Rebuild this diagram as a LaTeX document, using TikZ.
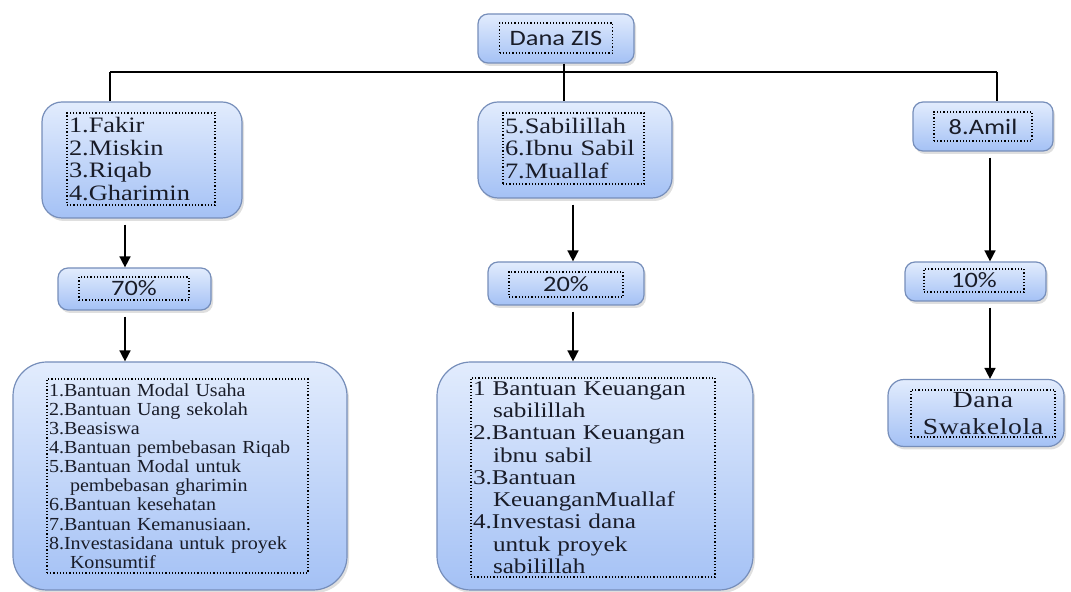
\documentclass[tikz,border=0pt]{standalone}
\usepackage{fontspec}
\setmainfont{Liberation Serif}[FakeStretch=1.2]
\setsansfont{Carlito}[FakeStretch=1.2]
\newfontfamily\plainserif{Liberation Serif}[FakeStretch=1.09]
\usetikzlibrary{positioning,arrows.meta,shadows}
\definecolor{zsTop}{RGB}{226,236,253}
\definecolor{zsBottom}{RGB}{164,193,245}
\definecolor{zsEdge}{RGB}{118,142,186}
\definecolor{zsInk}{RGB}{25,28,40}
\tikzset{
    base/.style={font=\rmfamily, text=zsInk},
    panel/.style={rectangle, rounded corners=#1, draw=zsEdge, line width=0.6pt,
                  top color=zsTop, bottom color=zsBottom,
                  drop shadow={opacity=0.25, shadow xshift=1pt, shadow yshift=-1.5pt}},
    panel/.default=5pt,
    inbox/.style={base, rectangle, draw=black, densely dotted, line width=0.6pt, inner sep=1pt},
    tag/.style={inbox, font=\sffamily\fontsize{11}{12}\selectfont, align=center},
    list/.style={inbox, align=left, text width=#1},
    flow/.style={-{Triangle[length=5.5pt,width=5.5pt]}, line width=0.8pt, shorten <=3pt},
    bus/.style={line width=0.8pt}
}

\begin{document}
\begin{tikzpicture}[x=0.5pt, y=-0.5pt]
  \useasboundingbox (0,0) rectangle (1071,592);

  % source
  \node[panel, minimum width=78pt, minimum height=24.5pt] (zis) at (556,38.5) {};
  \node[tag, minimum width=56.5pt, minimum height=15pt] (zisT) at (556,38) {Dana ZIS};

  % asnaf groups
  \node[panel=10pt, minimum width=100pt, minimum height=58pt] (asnafA) at (142,160) {};
  \node[list=72pt, minimum height=46pt, font=\fontsize{11}{11.25}\selectfont] (asnafAT) at (141,159)
    {1.Fakir\\2.Miskin\\3.Riqab\\4.Gharimin};
  \node[panel=10pt, minimum width=97pt, minimum height=48pt] (asnafB) at (575,150) {};
  \node[list=68.5pt, minimum height=35.5pt, font=\fontsize{11}{11.25}\selectfont] (asnafBT) at (573.5,148.5)
    {5.Sabilillah\\6.Ibnu Sabil\\7.Muallaf};
  \node[panel, minimum width=70pt, minimum height=24.5pt] (amil) at (983,126.5) {};
  \node[tag, minimum width=49pt, minimum height=14.5pt] (amilT) at (983,126.5) {8.Amil};

  % shares
  \node[panel, minimum width=76.5pt, minimum height=21pt] (p70) at (134.5,289) {};
  \node[tag, minimum width=55pt, minimum height=11.5pt] (p70T) at (134,288.5) {70\%};
  \node[panel, minimum width=78pt, minimum height=21.5pt] (p20) at (566,283.5) {};
  \node[tag, minimum width=57pt, minimum height=12.5pt] (p20T) at (566,284.5) {20\%};
  \node[panel, minimum width=70.5pt, minimum height=19.5pt] (p10) at (975.5,281.5) {};
  \node[tag, minimum width=50pt, minimum height=11.5pt] (p10T) at (974,280.5) {10\%};

  % programs
  \node[panel=17pt, minimum width=167pt, minimum height=114pt] (progA) at (180,476) {};
  \node[list=128.5pt, minimum height=97pt, font=\plainserif\fontsize{9.2}{9.55}\selectfont] (progAT) at (177.5,476)
    {1.Bantuan Modal Usaha\\2.Bantuan Uang sekolah\\3.Beasiswa\\4.Bantuan pembebasan Riqab\\
     5.Bantuan Modal untuk\\\hspace*{10.5pt}pembebasan gharimin\\6.Bantuan kesehatan\\
     7.Bantuan Kemanusiaan.\\8.Investasidana untuk proyek\\\hspace*{10.5pt}Konsumtif};
  \node[panel=17pt, minimum width=158pt, minimum height=114pt] (progB) at (595,476) {};
  \node[list=120pt, minimum height=99.5pt, font=\fontsize{10.5}{11.15}\selectfont] (progBT) at (593,477.5)
    {1 Bantuan Keuangan\\\hspace*{10pt}sabilillah\\2.Bantuan Keuangan\\\hspace*{10pt}ibnu sabil\\
     3.Bantuan\\\hspace*{10pt}KeuanganMuallaf\\4.Investasi dana\\\hspace*{10pt}untuk proyek\\
     \hspace*{10pt}sabilillah};
  \node[panel=8pt, minimum width=88pt, minimum height=33.5pt] (swa) at (976,413) {};
  \node[inbox, align=center, minimum width=72pt, minimum height=23.5pt,
        font=\addfontfeature{LetterSpace=3}\fontsize{11.5}{13.5}\selectfont] (swaT) at (983,413.5)
    {Dana\\Swakelola};

  % connectors
  \coordinate (busL) at (110,72);
  \coordinate (busR) at (997,72);
  \coordinate (colZ) at (564,0);
  \coordinate (colA) at (125,0);
  \coordinate (colB) at (573,0);
  \coordinate (colC) at (990,0);
  \draw[bus] (busL) -- (busR);
  \draw[bus] (busL) -- (busL |- asnafA.north);
  \draw[bus] (busR) -- (busR |- amil.north);
  \draw[bus] (zis.south -| colZ) -- (asnafB.north -| colZ);

  \draw[flow] (asnafA.south -| colA) -- (p70.north -| colA);
  \draw[flow] (p70.south -| colA) -- (progA.north -| colA);
  \draw[flow] (asnafB.south -| colB) -- (p20.north -| colB);
  \draw[flow] (p20.south -| colB) -- (progB.north -| colB);
  \draw[flow] (amil.south -| colC) -- (p10.north -| colC);
  \draw[flow] (p10.south -| colC) -- (swa.north -| colC);
\end{tikzpicture}
\end{document}
